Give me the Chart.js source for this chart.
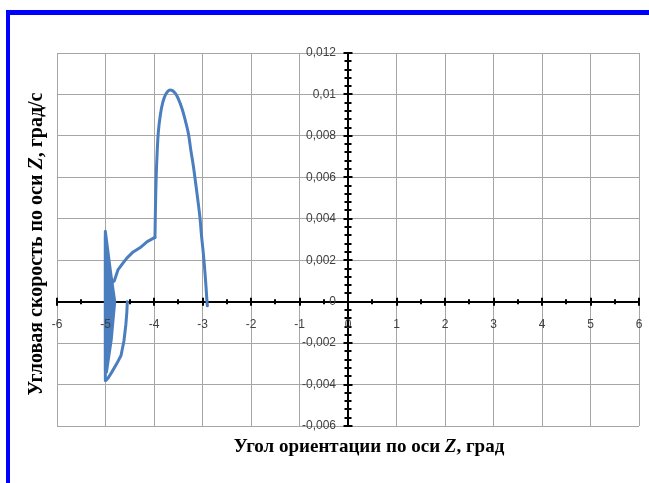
<!DOCTYPE html>
<html>
<head>
<meta charset="utf-8">
<script src="https://cdn.jsdelivr.net/npm/chart.js@4/dist/chart.umd.min.js"></script>
<style>
    body { margin: 0; background: #fff; overflow: hidden; }
    #frame { position: absolute; left: 6px; top: 10px; right: -20px; bottom: -20px;
             border-top: 5px solid #0000ff; border-left: 4px solid #0000ff; }
    #wrap { position: absolute; left: 0; top: 0; width: 649px; height: 483px; }
</style>
</head>
<body>
<div id="frame"></div>
<div id="wrap"><canvas id="grafico" width="649" height="483"></canvas></div>
<script>
// угол ориентации по оси Z, град -- колебания около -5 и переход к -4
var angle = [
    -4.55, -4.56, -4.58, -4.62, -4.68, -4.77, -4.87, -4.95, -4.99,
    -5.0, -5.01, -5.0,
    -4.9, -4.81, -4.88, -4.98,
    -4.92, -4.85, -4.93, -5.0,
    -4.95, -4.89, -4.95, -5.0,
    -5.01, -5.0,
    -4.97, -4.92, -4.97, -5.0,
    -4.96, -4.95, -4.98, -5.0,
    -4.99, -4.94, -4.9, -4.87,
    -4.82, -4.74, -4.66, -4.56, -4.43, -4.29, -4.14, -3.98
];
// угловая скорость по оси Z, град/с
var rate = [
    0.0, -0.0005, -0.0011, -0.0019, -0.0026, -0.003, -0.0034, -0.0037, -0.0038,
    -0.0033, 0.0, 0.0034,
    0.0015, 0.0, -0.0018, -0.0034,
    -0.0015, 0.0, 0.0016, 0.0033,
    0.0014, 0.0, -0.0016, -0.0033,
    0.0, 0.0032,
    0.0015, 0.0, -0.0015, -0.003,
    -0.001, 0.0, 0.0012, 0.0028,
    0.0022, 0.0006, 0.0004, 0.0009,
    0.001, 0.00155, 0.0018, 0.0021, 0.0024, 0.0026, 0.0029, 0.0031
];
// дуга от -4 до -3
var arcAngle = [
    -3.98, -3.97, -3.955, -3.935, -3.91, -3.87, -3.82, -3.76, -3.69, -3.63, -3.56, -3.5,
    -3.42, -3.35, -3.29, -3.24, -3.19, -3.14, -3.09, -3.05, -3.02, -2.99, -2.96, -2.93, -2.91, -2.9
];
var arcRate = [
    0.0031, 0.0045, 0.006, 0.0072, 0.0082, 0.009, 0.0096, 0.01, 0.0102, 0.0102, 0.01005, 0.0098,
    0.0093, 0.0087, 0.0081, 0.0073, 0.00657, 0.0057, 0.00479, 0.004, 0.00317, 0.0025, 0.00171, 0.0008, 0.0001, -0.0002
];

var xTickValues = [-6, -5, -4, -3, -2, -1, 0, 1, 2, 3, 4, 5, 6];
var xTickLabels = ['-6', '-5', '-4', '-3', '-2', '-1', '0', '1', '2', '3', '4', '5', '6'];
var yTickValues = [-0.006, -0.004, -0.002, 0, 0.002, 0.004, 0.006, 0.008, 0.01, 0.012];
var yTickLabels = ['-0,006', '-0,004', '-0,002', '0', '0,002', '0,004', '0,006', '0,008', '0,01', '0,012'];

var xTitle = [['Угол ориентации по оси ', false], ['Z', true], [', град', false]];
var yTitle = [['Угловая скорость по оси ', false], ['Z', true], [', град/с', false]];

function toPoints(xs, ys) {
    var pts = [];
    for (var i = 0; i < xs.length; i++) {
        pts.push({x: xs[i], y: ys[i]});
    }
    return pts;
}

function mixedText(ctx, parts, cx, cy, size) {
    var total = 0;
    for (var i = 0; i < parts.length; i++) {
        ctx.font = (parts[i][1] ? 'italic ' : '') + 'bold ' + size + 'px "Liberation Serif"';
        total += ctx.measureText(parts[i][0]).width;
    }
    var x = cx - total / 2;
    ctx.textAlign = 'left';
    ctx.textBaseline = 'middle';
    for (var i = 0; i < parts.length; i++) {
        ctx.font = (parts[i][1] ? 'italic ' : '') + 'bold ' + size + 'px "Liberation Serif"';
        ctx.fillText(parts[i][0], x, cy);
        x += ctx.measureText(parts[i][0]).width;
    }
}

// крестики на осях (под линией), подписи и названия осей (поверх)
var axesPlugin = {
    id: 'axesPlugin',
    beforeDatasetsDraw: function(chart) {
        var ctx = chart.ctx;
        var xs = chart.scales.x, ys = chart.scales.y;
        var x0 = xs.getPixelForValue(0), y0 = ys.getPixelForValue(0);
        ctx.save();
        ctx.strokeStyle = '#000';
        ctx.lineWidth = 2;
        ctx.beginPath();
        ctx.moveTo(x0, ys.top); ctx.lineTo(x0, ys.bottom);
        for (var v = -6; v <= 6.001; v += 0.5) {
            var px = Math.round(xs.getPixelForValue(v));
            var len = (Math.abs(v - Math.round(v)) < 0.01) ? 4 : 2.5;
            ctx.moveTo(px, y0 - len);
            ctx.lineTo(px, y0 + len);
        }
        for (var k = -15; k <= 30; k++) {
            var py = Math.round(ys.getPixelForValue(k * 0.0004));
            var l2 = (k % 5 === 0) ? 4.5 : 3.5;
            ctx.moveTo(x0 - l2, py);
            ctx.lineTo(x0 + l2, py);
        }
        ctx.stroke();
        ctx.restore();
    },
    afterDatasetsDraw: function(chart) {
        var ctx = chart.ctx;
        var xs = chart.scales.x, ys = chart.scales.y;
        var x0 = xs.getPixelForValue(0), y0 = ys.getPixelForValue(0);
        ctx.save();
        ctx.fillStyle = '#404040';
        ctx.font = '12px "Liberation Sans"';
        ctx.textBaseline = 'middle';
        ctx.textAlign = 'center';
        for (var j = 0; j < xTickValues.length; j++) {
            ctx.fillText(xTickLabels[j], xs.getPixelForValue(xTickValues[j]), y0 + 23);
        }
        ctx.textAlign = 'right';
        for (var j = 0; j < yTickValues.length; j++) {
            ctx.fillText(yTickLabels[j], x0 - 12, ys.getPixelForValue(yTickValues[j]));
        }

        ctx.fillStyle = '#000';
        mixedText(ctx, xTitle, 369, 447, 19);
        ctx.translate(37, 244);
        ctx.rotate(-Math.PI / 2);
        mixedText(ctx, yTitle, 0, 0, 20);
        ctx.restore();
    }
};

var ctx = document.getElementById('grafico');
var chart = new Chart(ctx, {
    type: 'scatter',
    data: {
        datasets: [{
            data: toPoints(angle, rate),
            showLine: true,
            borderColor: '#4a7ebf',
            borderWidth: 3,
            pointRadius: 0,
            tension: 0,
            borderJoinStyle: 'round',
            borderCapStyle: 'round'
        }, {
            data: toPoints(arcAngle, arcRate),
            showLine: true,
            borderColor: '#4a7ebf',
            borderWidth: 3,
            pointRadius: 0,
            tension: 0.4,
            borderCapStyle: 'round'
        }]
    },
    options: {
        responsive: false,
        animation: false,
        layout: { padding: { left: 57, right: 10, top: 53, bottom: 57 } },
        plugins: { legend: { display: false }, tooltip: { enabled: false } },
        scales: {
            x: {
                type: 'linear',
                position: { y: 0 },
                min: -6, max: 6,
                afterBuildTicks: function(s) {
                    s.ticks = xTickValues.map(function(v) { return {value: v}; });
                },
                grid: { color: '#a6a6a6', lineWidth: 1, drawTicks: false },
                border: { color: '#000', width: 2 },
                ticks: { display: false }
            },
            y: {
                type: 'linear',
                position: { x: 0 },
                min: -0.006, max: 0.012,
                afterBuildTicks: function(s) {
                    s.ticks = yTickValues.map(function(v) { return {value: v}; });
                },
                grid: { color: '#a6a6a6', lineWidth: 1, drawTicks: false },
                border: { color: '#000', width: 2 },
                ticks: { display: false }
            }
        }
    },
    plugins: [axesPlugin]
});
</script>
</body>
</html>
